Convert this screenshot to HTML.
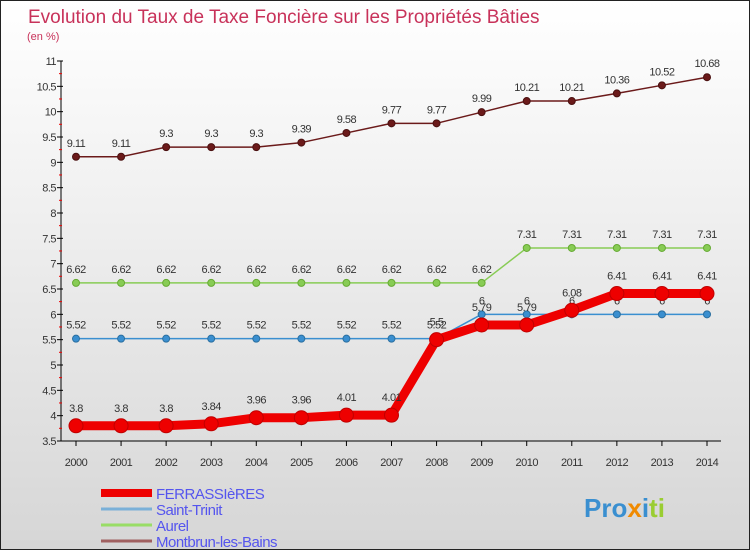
<!DOCTYPE html>
<html><head><meta charset="utf-8"><style>
body{margin:0;width:750px;height:550px;overflow:hidden;font-family:"Liberation Sans",sans-serif}
#wrap{position:absolute;left:0;top:0;width:748px;height:548px;border:1px solid #222;background:linear-gradient(#fff,#f3f3f3 30%,#d6d6d6)}
</style></head><body>
<div id="wrap">
<svg id="chart" width="748" height="548" font-family="Liberation Sans, sans-serif">
<text x="27" y="22" font-size="19" fill="#c8325a">Evolution du Taux de Taxe Foncière sur les Propriétés Bâties</text>
<text x="26" y="39" font-size="11" fill="#c8325a">(en %)</text>
<g id="axes"></g><g id="series"></g><g id="legend"></g>
<text x="583" y="516" font-size="26" font-weight="bold" fill="#3a8fd0">Pro<tspan fill="#f08a00">x</tspan><tspan fill="#3a8fd0">i</tspan><tspan fill="#9acd32">ti</tspan></text>
</svg></div>
<script>
const years=[2000,2001,2002,2003,2004,2005,2006,2007,2008,2009,2010,2011,2012,2013,2014];
const ferrassieres=[3.8,3.8,3.8,3.84,3.96,3.96,4.01,4.01,5.5,5.79,5.79,6.08,6.41,6.41,6.41];
const saintTrinit=[5.52,5.52,5.52,5.52,5.52,5.52,5.52,5.52,5.52,6,6,6,6,6,6];
const aurel=[6.62,6.62,6.62,6.62,6.62,6.62,6.62,6.62,6.62,6.62,7.31,7.31,7.31,7.31,7.31];
const montbrun=[9.11,9.11,9.3,9.3,9.3,9.39,9.58,9.77,9.77,9.99,10.21,10.21,10.36,10.52,10.68];
const yTicks=[3.5,4,4.5,5,5.5,6,6.5,7,7.5,8,8.5,9,9.5,10,10.5,11];
const ns="http://www.w3.org/2000/svg";
const X=i=>75+i*(706-75)/(years.length-1);
const Y=v=>440-(v-3.5)*(380/7.5);
function mk(t,a,p){const e=document.createElementNS(ns,t);for(const k in a)e.setAttribute(k,a[k]);p.appendChild(e);return e;}
const ax=document.getElementById('axes');
let l=mk('line',{x1:60,y1:60,x2:60,y2:440,stroke:'#000'},ax);


l=mk('line',{x1:60,y1:440,x2:720,y2:440,stroke:'#000'},ax);


yTicks.forEach(v=>{const y=Y(v);mk('line',{x1:56,y1:y,x2:62,y2:y,stroke:'#000'},ax);
if(v<11)mk('line',{x1:58,y1:y-12.7,x2:61,y2:y-12.7,stroke:'#e00'},ax);
const t=mk('text',{x:55,y:y+4,'font-size':11,'text-anchor':'end',fill:'#333','letter-spacing':'-0.5'},ax);t.textContent=String(v);

});
years.forEach((yr,i)=>{mk('line',{x1:X(i),y1:440,x2:X(i),y2:445,stroke:'#000'},ax);
const t=mk('text',{x:X(i),y:465,'font-size':11,'text-anchor':'middle',fill:'#333','letter-spacing':'-0.5'},ax);t.textContent=yr;

});
const S=document.getElementById('series');
function series(data,color,w,r,name,dark){
 const g=mk('g',{},S);
 
 
 mk('polyline',{points:data.map((v,i)=>X(i)+','+Y(v)).join(' '),fill:'none',stroke:color,'stroke-width':w,'stroke-linejoin':'round'},g);
 data.forEach((v,i)=>{const c=mk('circle',{cx:X(i),cy:Y(v),r:r,fill:color,stroke:dark,'stroke-width':1},g);
 
 
 const t=mk('text',{x:X(i),y:Y(v)-10-(r>5?4:0),'font-size':11,'text-anchor':'middle',fill:'#333','letter-spacing':'-0.5'},g);t.textContent=String(v);
 
 });
}
series(montbrun,'#6b1a1a',1.5,3.5,'montbrun','#4a1010');
series(aurel,'#88cc55',1.5,3.5,'aurel','#66aa33');
series(saintTrinit,'#3a8fd0',1.5,3.5,'saint-trinit','#2a6fa0');
series(ferrassieres,'#ee0000',9,7,'ferrassieres','#c00000');
const L=document.getElementById('legend');
[['FERRASSIèRES','#ee0000',8],['Saint-Trinit','#7ab0d8',3],['Aurel','#99dd66',3],['Montbrun-les-Bains','#a06060',3]].forEach((d,i)=>{
 const y=492+i*16;
 const ln=mk('line',{x1:100,y1:y,x2:151,y2:y,stroke:d[1],'stroke-width':d[2]},L);
 
 
 const t=mk('text',{x:155,y:y+6,'font-size':15,fill:'#5555ee','letter-spacing':'-0.5'},L);t.textContent=d[0];
 
 
});
</script></body></html>
